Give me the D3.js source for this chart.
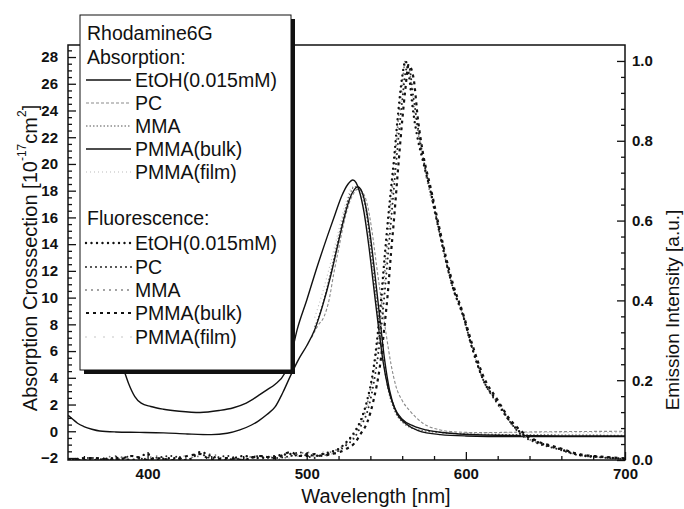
<!DOCTYPE html>
<html><head><meta charset="utf-8">
<script src="https://cdn.jsdelivr.net/npm/d3@7"></script>
<style>body{margin:0;background:#fff}svg{display:block}text{font-family:"Liberation Sans",Arial,sans-serif;fill:#111}</style>
</head><body><svg id="c" width="684" height="509"></svg>
<script>
// ---------- data ----------
const xTicks = [400, 500, 600, 700];
const yLeftTicks = [-2, 0, 2, 4, 6, 8, 10, 12, 14, 16, 18, 20, 22, 24, 26, 28];
const yRightTicks = [0, 0.2, 0.4, 0.6, 0.8, 1.0];

// Absorption (left axis, 10^-17 cm^2)
const wlAbsEtOH = [350,353,356,360,365,370,380,395,410,425,440,450,458,465,470,475,480,485,490,495,500,505,510,515,520,524,527,530,532,534,537,540,543,546,549,552,556,563,570,584,600,630,660,700];
const absEtOH   = [1.2,0.9,0.6,0.35,0.15,0.02,-0.05,-0.08,-0.12,-0.2,-0.25,-0.15,0.1,0.45,0.8,1.25,1.8,2.9,4.2,5.4,6.4,7.6,9.4,11.6,14.2,16.2,17.4,18.1,18.3,18.1,16.9,14.6,11.6,8.4,5.3,3.1,1.5,0.5,0.05,-0.25,-0.35,-0.4,-0.4,-0.4];

const wlAbsPC = [503,507,511,514,517,520,523,526,529,532,535,538,541,544,547,550,553,556,560,565,573,584,594,610,640,700];
const absPC   = [7.0,7.9,8.6,9.8,11.8,13.6,15.4,16.8,17.7,18.1,17.9,17.0,15.0,12.3,9.7,7.2,5.0,3.4,2.3,1.5,0.6,0.1,-0.05,-0.1,-0.05,0.0];

const wlAbsMMA = [505,510,515,520,524,527,530,533,536,539,542,545,548,551,555,560,570,600,700];
const absMMA   = [7.8,9.5,11.9,14.5,16.5,17.7,18.3,18.2,17.3,15.0,11.8,8.5,5.4,3.2,1.6,0.7,0.1,-0.2,-0.3];

const wlAbsBulk = [376,380,384,388,392,396,402,410,420,433,445,454,462,470,475,480,486,490,494,500,506,513,518,522,526,529,531,533,536,539,542,545,548,551,555,560,567,575,590,620,660,700];
const absBulk   = [8.0,6.5,5.0,3.6,2.6,2.1,1.85,1.65,1.5,1.4,1.55,1.76,2.1,2.7,3.1,3.5,4.3,5.6,7.6,9.8,12.1,14.6,16.3,17.6,18.5,18.8,18.6,18.0,16.4,13.9,10.9,7.9,5.2,3.3,1.8,0.9,0.4,0.1,-0.15,-0.3,-0.35,-0.35];

const wlAbsFilm = [505,510,515,520,525,529,532,535,538,541,544,547,550,555,560,570,600,700];
const absFilm   = [8.5,10.4,12.6,15.0,17.3,18.3,18.2,17.5,15.6,12.6,9.3,6.3,3.9,1.9,0.9,0.2,-0.1,-0.1];

// Fluorescence (right axis, a.u.)
const wlFl = [350,365,380,390,400,405,415,425,433,440,450,460,470,480,490,495,500,505,510,515,520,525,530,534,538,542,546,549,551,553,555,557,560,562,564,567,570,573,578,584,588,592,598,604,611,620,628,634,645,657,672,685,700];
const flEtOH = [0,0,0.005,0,0.015,0,0.005,0,0.02,0.01, 0,0.01,0.005,0.01,0.015,0.01,0.015,0.01,0.015,0.02, 0.028,0.045,0.07,0.1,0.15,0.23,0.37,0.51,0.6,0.68, 0.76,0.85,0.96,1.0,0.97,0.87,0.8,0.75,0.67,0.56, 0.49,0.43,0.365,0.28,0.2,0.145,0.095,0.07,0.045,0.03, 0.0125,0.0075,0.003];
const flPC   = [0,0.005,0,0.01,0,0.005,0.01,0,0.015,0.005, 0.01,0,0.01,0.005,0.01,0.02,0.01,0.005,0.015,0.015, 0.023,0.038,0.056,0.085,0.12,0.19,0.3,0.42,0.51,0.6, 0.69,0.78,0.9,0.97,0.99,0.91,0.83,0.76,0.67,0.56, 0.49,0.43,0.365,0.28,0.2,0.14,0.094,0.066,0.042,0.028, 0.011,0.0065,0.002];
const flMMA  = [0,0,0.01,0,0.005,0.01,0,0.005,0.01,0.015, 0,0.005,0.01,0,0.01,0.015,0.02,0.01,0.01,0.02, 0.028,0.042,0.066,0.094,0.14,0.22,0.34,0.47,0.56,0.65, 0.73,0.83,0.94,1.0,0.99,0.89,0.82,0.75,0.66,0.56, 0.49,0.43,0.365,0.28,0.2,0.145,0.094,0.068,0.043,0.029, 0.011,0.0065,0.002];
const flBulk = [0,0.005,0,0.01,0,0.005,0,0.01,0.015,0, 0.005,0,0.01,0.005,0.02,0.01,0.01,0.015,0.01,0.015, 0.019,0.028,0.042,0.066,0.094,0.15,0.235,0.34,0.42,0.52, 0.61,0.71,0.85,0.93,0.99,0.96,0.85,0.77,0.68,0.57, 0.5,0.44,0.37,0.29,0.21,0.15,0.1,0.075,0.047,0.032, 0.014,0.0085,0.004];
const flFilm = [0,0,0.005,0.01,0,0,0.005,0.01,0,0.01, 0.005,0.01,0,0.01,0.005,0.01,0.015,0.01,0.02,0.015, 0.023,0.038,0.061,0.094,0.13,0.21,0.32,0.45,0.54,0.63, 0.71,0.81,0.92,0.99,0.99,0.9,0.83,0.76,0.67,0.56, 0.49,0.43,0.365,0.28,0.2,0.14,0.094,0.066,0.042,0.028, 0.011,0.0065,0.002];

const legendAbs = ["EtOH(0.015mM)", "PC", "MMA", "PMMA(bulk)", "PMMA(film)"];
const legendFl  = ["EtOH(0.015mM)", "PC", "MMA", "PMMA(bulk)", "PMMA(film)"];

// ---------- styles ----------
const absStyles = [
  {stroke:"#111", width:1.4, dash:null},
  {stroke:"#8a8a8a", width:1.1, dash:"3,2"},
  {stroke:"#555", width:1.1, dash:"1.5,2"},
  {stroke:"#111", width:1.4, dash:null},
  {stroke:"#bbb", width:1.1, dash:"1,3"}
];
const flStyles = [
  {stroke:"#111", width:2.4, dash:"0,5.5", cap:"round"},
  {stroke:"#222", width:2.0, dash:"0,5", cap:"round"},
  {stroke:"#777", width:1.8, dash:"0,6", cap:"round"},
  {stroke:"#111", width:2.2, dash:"3,4", cap:"butt"},
  {stroke:"#bbb", width:1.6, dash:"0,9", cap:"round"}
];

// ---------- scales ----------
const svg = d3.select("#c");
const L = 68, R = 625, T = 45, B = 460;
const x  = d3.scaleLinear().domain([350, 700]).range([L, R]);
const yL = d3.scaleLinear().domain([-2.15, 28.9]).range([B, T]);
const yR = d3.scaleLinear().domain([0, 1.04]).range([B, T]);

svg.append("rect").attr("width",684).attr("height",509).attr("fill","#fff");
svg.append("defs").append("clipPath").attr("id","clip")
  .append("rect").attr("x",L).attr("y",T).attr("width",R-L).attr("height",B-T);

const plot = svg.append("g").attr("clip-path","url(#clip)");

function pairs(w, v){ return w.map((d,i)=>[d, v[i]]); }
const absSeries = [pairs(wlAbsEtOH,absEtOH), pairs(wlAbsPC,absPC), pairs(wlAbsMMA,absMMA), pairs(wlAbsBulk,absBulk), pairs(wlAbsFilm,absFilm)];
const flSeries = [flEtOH, flPC, flMMA, flBulk, flFilm].map(v => pairs(wlFl, v));

const lineL = d3.line().x(d=>x(d[0])).y(d=>yL(d[1])).curve(d3.curveMonotoneX);
const lineR = d3.line().x(d=>x(d[0])).y(d=>yR(d[1])).curve(d3.curveMonotoneX);

[4,2,1,0,3].forEach(i=>{
  const s = absStyles[i];
  plot.append("path").attr("d", lineL(absSeries[i])).attr("fill","none")
    .attr("stroke", s.stroke).attr("stroke-width", s.width)
    .attr("stroke-dasharray", s.dash);
});
[4,2,1,0,3].forEach(i=>{
  const s = flStyles[i];
  plot.append("path").attr("d", lineR(flSeries[i])).attr("fill","none")
    .attr("stroke", s.stroke).attr("stroke-width", s.width)
    .attr("stroke-dasharray", s.dash).attr("stroke-linecap", s.cap);
});

// ---------- axes ----------
const tickFont = g => g.selectAll("text").attr("font-size",15).attr("font-weight","bold")
  .attr("font-family","'Liberation Sans',Arial,sans-serif").attr("fill","#111");
const clean = g => { g.select(".domain").remove(); g.selectAll("line").attr("stroke","#111").attr("stroke-width",1.3); };

const minorL = d3.range(-2, 28.9, 0.5).filter(v => Math.abs(v/2 - Math.round(v/2)) > 1e-6);
svg.append("g").attr("transform",`translate(${L},0)`)
  .call(d3.axisLeft(yL).tickValues(minorL).tickSize(-4).tickFormat("")).call(clean);
svg.append("g").attr("transform",`translate(${L},0)`)
  .call(d3.axisLeft(yL).tickValues(yLeftTicks).tickSizeInner(-8).tickSizeOuter(0).tickPadding(10))
  .call(clean).call(tickFont);

const minorX = d3.range(360, 700, 20).filter(v => v % 100 !== 0);
svg.append("g").attr("transform",`translate(0,${B})`)
  .call(d3.axisBottom(x).tickValues(minorX).tickSize(-4).tickFormat("")).call(clean);
svg.append("g").attr("transform",`translate(0,${B})`)
  .call(d3.axisBottom(x).tickValues(xTicks).tickSizeInner(-8).tickSizeOuter(0).tickPadding(8).tickFormat(d3.format("d")))
  .call(clean).call(tickFont);

const minorR = d3.range(1, 26).map(i => i*0.04).filter(v => Math.abs(v/0.2 - Math.round(v/0.2)) > 1e-6);
svg.append("g").attr("transform",`translate(${R},0)`)
  .call(d3.axisRight(yR).tickValues(minorR).tickSize(-4).tickFormat("")).call(clean);
svg.append("g").attr("transform",`translate(${R},0)`)
  .call(d3.axisRight(yR).tickValues(yRightTicks).tickSizeInner(-8).tickSizeOuter(0).tickPadding(7).tickFormat(d3.format(".1f")))
  .call(clean).call(tickFont);

svg.append("rect").attr("x",L).attr("y",T).attr("width",R-L).attr("height",B-T)
  .attr("fill","none").attr("stroke","#111").attr("stroke-width",1.5);

// axis titles
svg.append("text").attr("x",376).attr("y",503).attr("text-anchor","middle")
  .attr("font-size",20).text("Wavelength [nm]");

const yt = svg.append("text").attr("transform","translate(30,258) rotate(-90)")
  .attr("text-anchor","middle").attr("dominant-baseline","central").attr("font-size",20);
yt.append("tspan").text("Absorption Crosssection [10");
yt.append("tspan").attr("dy",-8).attr("font-size",12).text("-17");
yt.append("tspan").attr("dy",8).text("cm");
yt.append("tspan").attr("dy",-8).attr("font-size",12).text("2");
yt.append("tspan").attr("dy",8).text("]");

svg.append("text").attr("transform","translate(672,310) rotate(-90)")
  .attr("text-anchor","middle").attr("dominant-baseline","central").attr("font-size",19)
  .text("Emission Intensity [a.u.]");

// ---------- legend ----------
const lg = svg.append("g");
lg.append("rect").attr("x",84).attr("y",19).attr("width",211).attr("height",355).attr("fill","#111");
lg.append("rect").attr("x",80).attr("y",15).attr("width",211).attr("height",355)
  .attr("fill","#fff").attr("stroke","#111").attr("stroke-width",1);
const lt = (y, s, xx) => lg.append("text").attr("x",xx).attr("y",y).attr("dominant-baseline","central")
  .attr("font-size",19.5).text(s);
lt(33, "Rhodamine6G", 87);
lt(57, "Absorption:", 87);
const absRows = [80, 103, 126, 149, 172];
legendAbs.forEach((n,i)=>{
  const s = absStyles[i];
  lg.append("line").attr("x1",86).attr("x2",131).attr("y1",absRows[i]).attr("y2",absRows[i])
    .attr("stroke",s.stroke).attr("stroke-width",s.width).attr("stroke-dasharray",s.dash);
  lt(absRows[i], n, 135);
});
lt(218, "Fluorescence:", 87);
const flRows = [243, 267, 290, 313, 337];
legendFl.forEach((n,i)=>{
  const s = flStyles[i];
  lg.append("line").attr("x1",86).attr("x2",132).attr("y1",flRows[i]).attr("y2",flRows[i])
    .attr("stroke",s.stroke).attr("stroke-width",s.width).attr("stroke-dasharray",s.dash)
    .attr("stroke-linecap",s.cap);
  lt(flRows[i], n, 135);
});
</script></body></html>
